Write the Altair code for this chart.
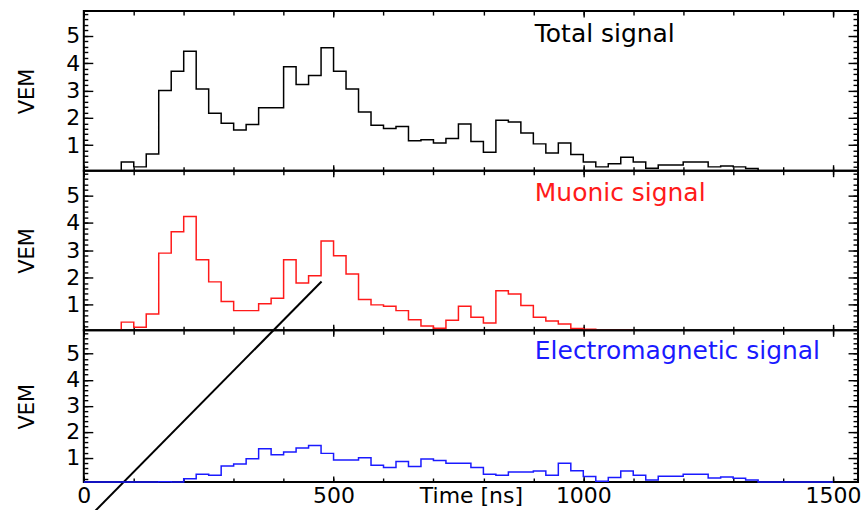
import altair as alt
import pandas as pd

BIN_NS = 25  # width of one trace bin in ns

# Total signal: bins of 25 ns starting at 75 ns
total_start = 75
total_vem = [0.39, 0.21, 0.68, 3.00, 3.70, 4.43, 3.05, 2.17, 1.80, 1.56,
             1.76, 2.37, 2.37, 3.87, 3.22, 3.55, 4.56, 3.70, 3.05, 2.21,
             1.73, 1.61, 1.68, 1.16, 1.20, 1.08, 1.25, 1.78, 1.14, 0.74,
             1.91, 1.85, 1.45, 1.05, 0.72, 1.08, 0.66, 0.39, 0.21, 0.32,
             0.56, 0.39, 0.16, 0.28, 0.28, 0.39, 0.39, 0.21, 0.24, 0.21,
             0.15]

# Muonic component
muon_start = 75
muon_vem = [0.37, 0.18, 0.67, 2.89, 3.67, 4.23, 2.65, 1.84, 1.12, 0.79,
            0.79, 1.04, 1.24, 2.65, 1.80, 2.06, 3.33, 2.79, 2.13, 1.20,
            1.00, 0.95, 0.79, 0.46, 0.23, 0.15, 0.44, 0.95, 0.55, 0.34,
            1.52, 1.40, 0.98, 0.55, 0.41, 0.30, 0.14, 0.11, 0.00, 0.06,
            0.06]

# Electromagnetic component
em_start = 0
em_vem = [0.00, 0.00, 0.00, 0.00, 0.00, 0.00, 0.08, 0.03, 0.19, 0.37,
          0.33, 0.68, 0.76, 0.96, 1.35, 1.12, 1.22, 1.38, 1.47, 1.17,
          0.92, 0.92, 1.00, 0.71, 0.63, 0.86, 0.67, 0.95, 0.90, 0.79,
          0.79, 0.63, 0.37, 0.33, 0.45, 0.45, 0.49, 0.33, 0.79, 0.50,
          0.28, 0.10, 0.24, 0.49, 0.33, 0.15, 0.29, 0.29, 0.37, 0.37,
          0.22, 0.26, 0.21, 0.15, 0.00, 0.00, 0.00, 0.00, 0.00, 0.00]

panel_labels = ["Total signal", "Muonic signal", "Electromagnetic signal"]
panel_colors = ["black", "#ff1a1a", "#1a1aff"]
label_pos_ns = 903
label_pos_vem = 4.78

# Pointer line drawn across the lower panels
pointer_t = [15, 476]
pointer_vem = [-6.67, 1.855]

y_label_values = [1, 2, 3, 4, 5]
y_minor_values = [round(0.2 * i, 1) for i in range(1, 30)]
x_label_values = [0, 500, 1000, 1500]
x_minor_values = list(range(0, 1501, 100))
x_major_values = [0, 500, 1000, 1500]

X_DOMAIN = [0, 1550]
Y_DOMAIN = [0.07, 5.9]
PLOT_W = 776
FONT = "DejaVu Sans"


def step_frame(start, values):
    """Histogram outline: rise from the baseline, one point per bin, drop at the end."""
    end = start + BIN_NS * len(values)
    rows = [(start, 0.0)]
    rows += [(start + BIN_NS * i, v) for i, v in enumerate(values)]
    rows += [(end, values[-1]), (end, 0.0)]
    return pd.DataFrame(rows, columns=["t", "vem"])


def tick_axis(orient, values, size):
    # ticks only, pulled inside the frame
    return alt.Axis(orient=orient, values=values, tickSize=size, offset=-size,
                    labels=False, domain=False, grid=False, title=None,
                    tickColor="black", tickWidth=1.4)


def panel(df, color, label, height, bottom_labels, pointer=False):
    xs = alt.Scale(domain=X_DOMAIN, nice=False, zero=False)
    ys = alt.Scale(domain=Y_DOMAIN, nice=False, zero=False, clamp=True)
    base = alt.Chart(df)

    if bottom_labels:
        x_axis = alt.Axis(orient="bottom", values=x_label_values, ticks=False,
                          domain=False, grid=False, labelPadding=4,
                          labelFontSize=22, labelFlush=False, format="d",
                          title="Time [ns]", titleFontSize=22,
                          titleBaseline="top", titleY=4)
    else:
        x_axis = alt.Axis(orient="bottom", values=x_label_values, ticks=False,
                          domain=False, grid=False, labels=False, title=None)
    y_axis = alt.Axis(orient="left", values=y_label_values, ticks=False,
                      domain=False, grid=False, labelPadding=4,
                      labelFontSize=22, format="d", title="VEM",
                      titleFontSize=21, titleX=-50.7,
                      titleBaseline="alphabetic")

    line = base.mark_line(interpolate="step-after", color=color,
                          strokeWidth=1.5).encode(
        x=alt.X("t:Q", scale=xs, axis=x_axis),
        y=alt.Y("vem:Q", scale=ys, axis=y_axis),
    )

    layers = [line]
    for xo, xv, xsz, yo, yv, ysz in [
        ("bottom", x_minor_values, 4, "left", y_minor_values, 4),
        ("bottom", x_major_values, 6, "left", y_label_values, 9),
        ("top", x_minor_values, 4, "right", y_minor_values, 5),
        ("top", x_major_values, 6, "right", y_label_values, 10),
    ]:
        layers.append(base.mark_line(opacity=0).encode(
            x=alt.X("t:Q", scale=xs, axis=tick_axis(xo, xv, xsz)),
            y=alt.Y("vem:Q", scale=ys, axis=tick_axis(yo, yv, ysz)),
        ))

    text_df = pd.DataFrame({"t": [label_pos_ns], "vem": [label_pos_vem],
                            "txt": [label]})
    layers.append(alt.Chart(text_df).mark_text(
        align="left", baseline="alphabetic", font=FONT, fontSize=25,
        color=color).encode(
        x=alt.X("t:Q", scale=xs, axis=None),
        y=alt.Y("vem:Q", scale=ys, axis=None),
        text="txt:N",
    ))

    if pointer:
        pdf = pd.DataFrame({"t": pointer_t, "vem": pointer_vem})
        layers.append(alt.Chart(pdf).mark_line(
            color="black", strokeWidth=2, clip=False).encode(
            x=alt.X("t:Q", scale=xs, axis=None),
            y=alt.Y("vem:Q", scale=alt.Scale(domain=Y_DOMAIN, nice=False,
                                             zero=False), axis=None),
        ))

    return alt.layer(*layers).properties(width=PLOT_W, height=height) \
        .resolve_axis(x="independent", y="independent") \
        .resolve_scale(y="independent")


top = panel(step_frame(total_start, total_vem), panel_colors[0],
            panel_labels[0], 160, False)
mid = panel(step_frame(muon_start, muon_vem), panel_colors[1],
            panel_labels[1], 160, False, pointer=True)
bot = panel(step_frame(em_start, em_vem), panel_colors[2],
            panel_labels[2], 152, True)

chart = alt.vconcat(top, mid, bot, spacing=0, bounds="flush").properties(
    padding={"left": 15, "top": 8.5, "right": 5, "bottom": 0},
    background="white",
).configure_view(
    stroke="black", strokeWidth=2
).configure_axis(
    labelFont=FONT, titleFont=FONT, labelColor="black", titleColor="black",
    titleFontWeight="normal"
)

chart.save("out.html", embed_options={"renderer": "svg", "actions": False})
